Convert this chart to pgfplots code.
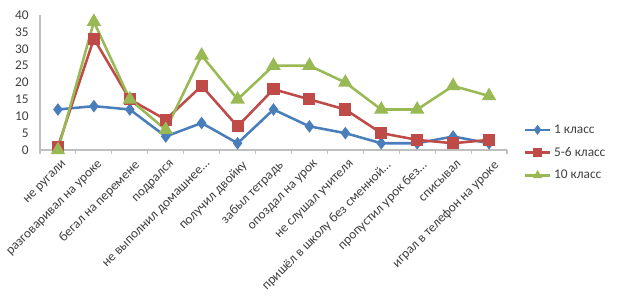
\documentclass[border=0pt]{standalone}
\usepackage{pgfplots}
\pgfplotsset{compat=1.18}
\usepackage{fontspec}
\setmainfont{Carlito}
\definecolor{c1}{HTML}{4A7EBB}
\definecolor{c2}{HTML}{BE4B48}
\definecolor{c3}{HTML}{98B954}
\definecolor{txt}{HTML}{404040}
\definecolor{axc}{HTML}{BFBFBF}
\begin{document}
\begin{tikzpicture}
\begin{axis}[
  at={(0,0)}, anchor=south west,
  scale only axis, width=350.25pt, height=101.25pt,
  xmin=-0.5, xmax=12.5, ymin=0, ymax=40,
  ytick={0,5,...,40},
  xtick={0,...,12},
  xticklabels={не ругали, разговаривал на уроке, бегал на перемене, подрался, не выполнил домашнее…, получил двойку, забыл тетрадь, опоздал на урок, не слушал учителя, пришёл в школу без сменной…, пропустил урок без…, списывал, играл в телефон на уроке},
  minor xtick={-0.5,0.5,...,12.5},
  axis x line*=bottom, axis y line*=left,
  axis line style={axc, line width=0.8pt, -},
  x axis line style={-}, y axis line style={-},
  major x tick style={draw=none},
  minor x tick style={axc, line width=0.8pt},
  minor tick length=3pt,
  ytick style={draw=none},
  tick align=outside,
  ticklabel style={font=\fontsize{10}{12}\selectfont, text=txt},
  xticklabel style={rotate=45, anchor=north east, inner sep=1pt, xshift=1pt, yshift=-3pt},
  yticklabel style={inner sep=2pt, xshift=-2pt},
  /pgf/number format/assume math mode=true,
  clip=false,
  legend style={at={(axis description cs:1.035,-0.02)}, anchor=west, draw=none, fill=none,
    font=\fontsize{10}{12}\selectfont, text=txt, row sep=5pt, inner sep=0pt,
    /tikz/every even column/.append style={column sep=1pt}},
  legend image code/.code={
    \draw[#1, mark=none] (0pt,0pt) -- (19pt,0pt);
    \path[#1, mark size=2.2pt] plot coordinates {(9.5pt,0pt)};
  },
  legend cell align=left,
]
\addplot[c1, line width=1.9pt, mark=diamond*, mark size=3.2pt, mark options={solid}] coordinates {
(0,12)(1,13)(2,12)(3,4)(4,8)(5,2)(6,12)(7,7)(8,5)(9,2)(10,2)(11,4)(12,2)};
\addlegendentry{1 класс}
\addplot[c2, line width=1.9pt, mark=square*, mark size=3.6pt, mark options={solid}] coordinates {
(0,1)(1,33)(2,15)(3,9)(4,19)(5,7)(6,18)(7,15)(8,12)(9,5)(10,3)(11,2)(12,3)};
\addlegendentry{5-6 класс}
\addplot[c3, line width=1.9pt, mark=triangle*, mark size=4.4pt, mark options={solid}] coordinates {
(0,0)(1,38)(2,15)(3,6)(4,28)(5,15)(6,25)(7,25)(8,20)(9,12)(10,12)(11,19)(12,16)};
\addlegendentry{10 класс}
\end{axis}
\pgfresetboundingbox
\path (-30pt,-117.75pt) rectangle (435.75pt,112.5pt);
\end{tikzpicture}
\end{document}
